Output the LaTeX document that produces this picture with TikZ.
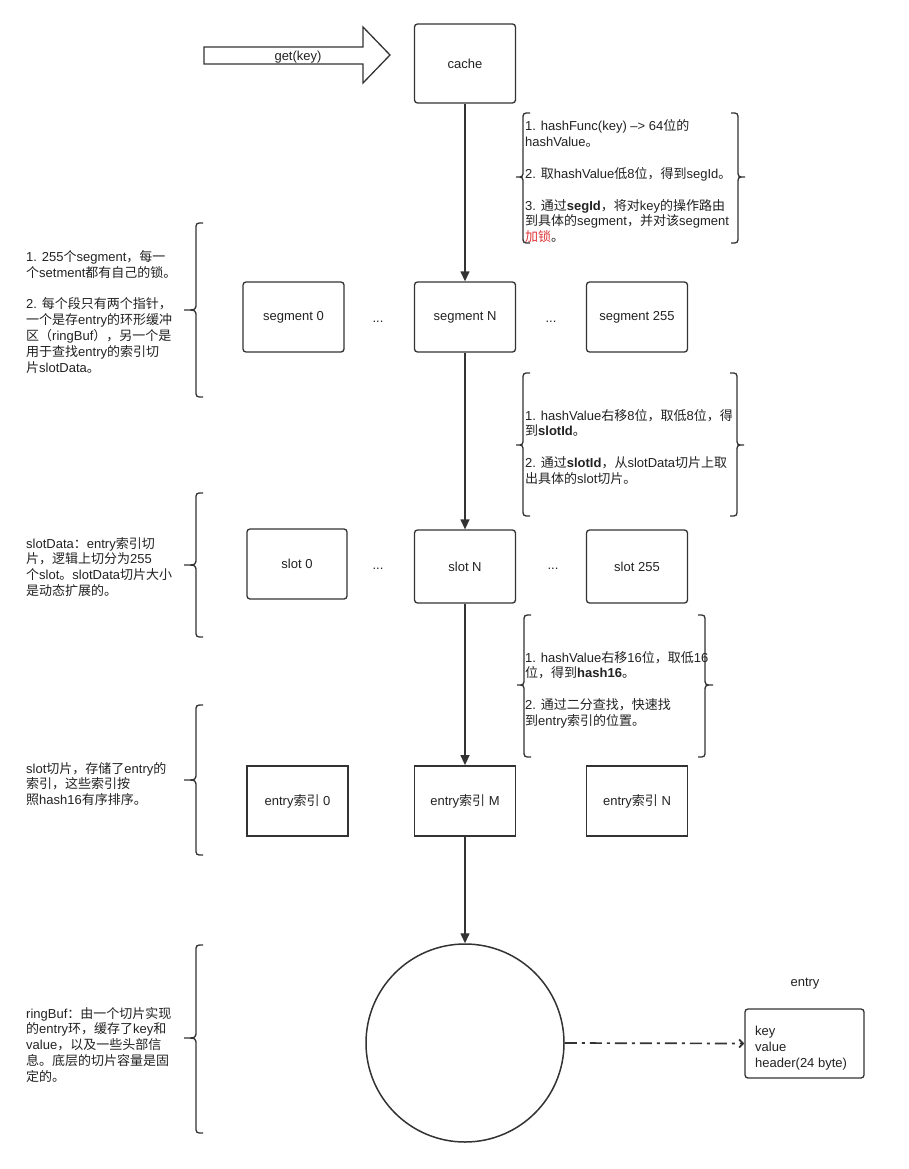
\documentclass[tikz,border=0pt]{standalone}
\usepackage{fontspec}
\setmainfont{Liberation Sans}
\newfontfamily\cjkf{Noto Sans CJK SC}
\usetikzlibrary{arrows.meta}
% automatic switch to the CJK font for CJK characters
\XeTeXinterchartokenstate=1
\newXeTeXintercharclass\CJKcls
\newcount\cjkn
\def\setcjkrange#1#2{\cjkn=#1\relax\loop\XeTeXcharclass\cjkn=\CJKcls\relax\ifnum\cjkn<#2\relax\advance\cjkn by 1\repeat}
\setcjkrange{"4E00}{"9FFF}
\setcjkrange{"3000}{"303F}
\setcjkrange{"FF00}{"FFEF}
\XeTeXinterchartoks 0 \CJKcls = {\begingroup\cjkf}
\XeTeXinterchartoks 4095 \CJKcls = {\begingroup\cjkf}
\XeTeXinterchartoks \CJKcls 0 = {\endgroup}
\XeTeXinterchartoks \CJKcls 4095 = {\endgroup}
\definecolor{ln}{HTML}{333333}
\definecolor{tx}{HTML}{222222}
\definecolor{redt}{HTML}{E0363A}
\newcommand\fsz{\fontsize{13}{15.8}\selectfont}
\tikzset{
  box/.style={draw=ln, line width=1.3pt, rounded corners=3pt, minimum width=101pt,
    minimum height=70pt, inner sep=0pt, font=\fsz, text=tx},
  sqbox/.style={draw=ln, line width=1.8pt, minimum width=101pt,
    minimum height=70pt, inner sep=0pt, font=\fsz, text=tx},
  lbl/.style={inner sep=0pt, font=\fsz, text=tx},
  note/.style={inner sep=0pt, font=\fsz, text=tx, align=left, anchor=base west},
  arr/.style={draw=ln, line width=1.3pt, -{Triangle[length=10pt,width=9pt]}},
  brc/.style={draw=ln, line width=1.3pt},
  dda/.style={draw=ln, line width=1.7pt, dash pattern=on 12pt off 5pt on 3pt off 5pt,
    -{Straight Barb[length=4pt,width=8pt]}}
}
\newcommand\mybraceL[5]{% spine x, top y, bottom y, mid y, tip x
  \draw[brc] (#1+7,#2) .. controls (#1,#2) .. (#1,#2+7) -- (#1,#4-7)
    .. controls (#1,#4) .. (#5,#4) .. controls (#1,#4) .. (#1,#4+7)
    -- (#1,#3-7) .. controls (#1,#3) .. (#1+7,#3);}
\newcommand\mybraceR[5]{% spine x, top y, bottom y, mid y, tip x
  \draw[brc] (#1-7,#2) .. controls (#1,#2) .. (#1,#2+7) -- (#1,#4-7)
    .. controls (#1,#4) .. (#5,#4) .. controls (#1,#4) .. (#1,#4+7)
    -- (#1,#3-7) .. controls (#1,#3) .. (#1-7,#3);}
\begin{document}
\begin{tikzpicture}[x=1pt,y=-1pt]
\useasboundingbox[fill=white] (0,0) rectangle (909,1169);

% get(key) big arrow
\draw[draw=ln, line width=1.3pt, fill=white] (204,47) -- (363,47) -- (363,27) -- (390,55)
  -- (363,83) -- (363,64) -- (204,64) -- cycle;
\node[lbl] (getkey) at (298,57) {get(key)};

% main column
\node[box, minimum height=79pt] (cache) at (465,63.5) {cache};

\node[box] (seg0) at (293.5,317) {segment 0};
\node[box] (segN) at (465,317) {segment N};
\node[box] (seg255) at (637,317) {segment 255};
\node[lbl] (dots1) at (378,322) {...};
\node[lbl] (dots2) at (551,322) {...};

\node[box, minimum width=100pt] (slot0) at (297,564) {slot 0};
\node[box, minimum height=73pt] (slotN) at (465,566.5) {slot N};
\node[box, minimum height=73pt] (slot255) at (637,566.5) {slot 255};
\node[lbl] (dots3) at (378,569) {...};
\node[lbl] (dots4) at (553,569) {...};

\node[sqbox] (ent0) at (297.5,801) {entry索引 0};
\node[sqbox] (entM) at (465,801) {entry索引 M};
\node[sqbox] (entN) at (637,801) {entry索引 N};

\node[circle, draw=ln, line width=1.5pt, minimum size=198pt, inner sep=0pt] (ring) at (465,1043) {};

\node[draw=ln, line width=1.3pt, rounded corners=3pt, minimum height=69pt,
  minimum width=119pt, inner sep=0pt] (entry) at (804.5,1043.5) {};
\node[note] (entrytxt) at (755,1067.5) {key\\value\\header(24 byte)};
\node[lbl] (entrylbl) at (805,984) {entry};

\draw[arr] (cache.south) -- (segN.north);
\draw[arr] (segN.south) -- (slotN.north);
\draw[arr] (slotN.south) -- (entM.north);
\draw[arr] (entM.south) -- (ring.north);
\draw[dda] (ring.east) -- (entry.west);

% right-hand notes
\mybraceL{523}{113}{243}{177}{516}
\mybraceR{738}{113}{243}{177}{745}
\node[note] (n1) at (525,241.6) {1. hashFunc(key) –> 64位的\\hashValue。\\[15.8pt]2. 取hashValue低8位，得到segId。\\[15.8pt]3. 通过\textbf{segId}，将对key的操作路由\\到具体的segment，并对该segment\\\textcolor{redt}{加锁}。};

\mybraceL{523}{373}{516}{445}{516}
\mybraceR{737}{373}{516}{445}{744}
\node[note] (n2) at (525,483.2) {1. hashValue右移8位，取低8位，得\\到\textbf{slotId}。\\[15.8pt]2. 通过\textbf{slotId}，从slotData切片上取\\出具体的slot切片。};

\mybraceL{524}{615}{757}{685}{517}
\mybraceR{705}{615}{757}{685}{713}
\node[note] (n3) at (525,725.2) {1. hashValue右移16位，取低16\\位，得到\textbf{hash16}。\\[15.8pt]2. 通过二分查找，快速找\\到entry索引的位置。};

% left-hand notes
\mybraceL{196}{223}{397}{310}{184}
\node[note] (l1) at (26,372) {1. 255个segment，每一\\个setment都有自己的锁。\\[15.8pt]2. 每个段只有两个指针，\\一个是存entry的环形缓冲\\区（ringBuf），另一个是\\用于查找entry的索引切\\片slotData。};

\mybraceL{196}{493}{637}{565}{184}
\node[note] (l2) at (26,595.4) {slotData：entry索引切\\片，逻辑上切分为255\\个slot。slotData切片大小\\是动态扩展的。};

\mybraceL{196}{705}{855}{780}{184}
\node[note] (l3) at (26,804.6) {slot切片，存储了entry的\\索引，这些索引按\\照hash16有序排序。};

\mybraceL{196}{945}{1133}{1038}{184}
\node[note] (l4) at (26,1081.2) {ringBuf：由一个切片实现\\的entry环，缓存了key和\\value，以及一些头部信\\息。底层的切片容量是固\\定的。};
\end{tikzpicture}
\end{document}
